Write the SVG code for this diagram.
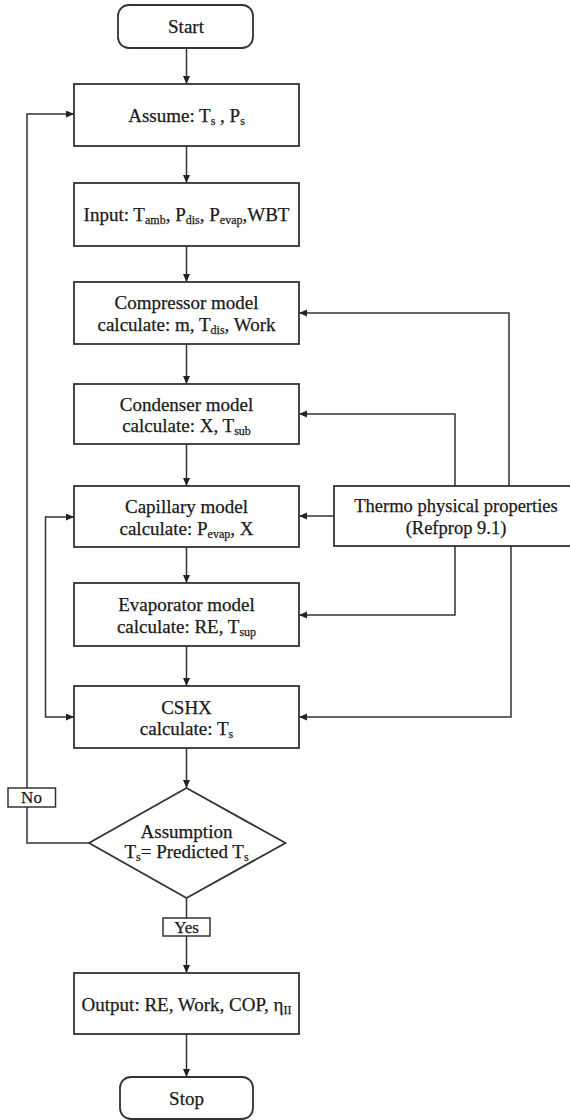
<svg xmlns="http://www.w3.org/2000/svg" width="570" height="1120" viewBox="0 0 570 1120">
<style>
.box{fill:#fff;stroke:#333;stroke-width:1.8}
.lbl{fill:#fff;stroke:#333;stroke-width:1.5}
.t{font-family:"Liberation Serif","Times New Roman",serif;font-size:19px;fill:#1a1a1a;stroke:#1a1a1a;stroke-width:0.25;text-anchor:middle}
.s{font-size:12px}
.c{fill:none;stroke:#333;stroke-width:1.5}
</style>
<defs>
<marker id="ah" markerUnits="userSpaceOnUse" markerWidth="9" markerHeight="8" refX="8" refY="3.5" orient="auto-start-reverse">
<path d="M0,0 L8,3.5 L0,7 z" fill="#222"/>
</marker>
</defs>
<rect width="570" height="1120" fill="#fff"/>
<g id="connectors">
<path class="c" d="M186.5,48 V84" marker-end="url(#ah)"/>
<path class="c" d="M186.5,146 V183" marker-end="url(#ah)"/>
<path class="c" d="M186.5,246 V282" marker-end="url(#ah)"/>
<path class="c" d="M186.5,344 V384" marker-end="url(#ah)"/>
<path class="c" d="M186.5,444 V486" marker-end="url(#ah)"/>
<path class="c" d="M186.5,547 V583" marker-end="url(#ah)"/>
<path class="c" d="M186.5,646 V686" marker-end="url(#ah)"/>
<path class="c" d="M186.5,748 V788" marker-end="url(#ah)"/>
<path class="c" d="M186.5,898 V973" marker-end="url(#ah)"/>
<path class="c" d="M186.5,1034 V1077" marker-end="url(#ah)"/>
<path class="c" d="M89,843 H27 V114 H74" marker-end="url(#ah)"/>
<path class="c" d="M509,486 V313 H299" marker-end="url(#ah)"/>
<path class="c" d="M455,486 V414 H299" marker-end="url(#ah)"/>
<path class="c" d="M334,516 H299" marker-end="url(#ah)"/>
<path class="c" d="M455,546 V615 H299" marker-end="url(#ah)"/>
<path class="c" d="M511,546 V717 H299" marker-end="url(#ah)"/>
<path class="c" d="M74,517 H45.5 V717 H74" marker-start="url(#ah)" marker-end="url(#ah)"/>
</g>
<g id="start">
<rect class="box" x="118" y="5" width="135" height="43" rx="11"/>
<text class="t" x="186" y="33">Start</text>
</g>
<g id="assume">
<rect class="box" x="74" y="84" width="225" height="62"/>
<text class="t" x="186.5" y="122">Assume: T<tspan class="s" dy="3">s</tspan><tspan dy="-3"> , P</tspan><tspan class="s" dy="3">s</tspan></text>
</g>
<g id="input">
<rect class="box" x="74" y="183" width="225" height="63"/>
<text class="t" x="186.5" y="221">Input: T<tspan class="s" dy="3">amb</tspan><tspan dy="-3">, P</tspan><tspan class="s" dy="3">dis</tspan><tspan dy="-3">, P</tspan><tspan class="s" dy="3">evap</tspan><tspan dy="-3">,WBT</tspan></text>
</g>
<g id="compressor">
<rect class="box" x="74" y="282" width="225" height="62"/>
<text class="t" x="186.5" y="309">Compressor model</text>
<text class="t" x="186.5" y="331">calculate: m, T<tspan class="s" dy="3">dis</tspan><tspan dy="-3">, Work</tspan></text>
</g>
<g id="condenser">
<rect class="box" x="74" y="384" width="225" height="60"/>
<text class="t" x="186.5" y="411">Condenser model</text>
<text class="t" x="186.5" y="432">calculate: X, T<tspan class="s" dy="3">sub</tspan></text>
</g>
<g id="capillary">
<rect class="box" x="74" y="486" width="225" height="61"/>
<text class="t" x="186.5" y="513">Capillary model</text>
<text class="t" x="186.5" y="535">calculate: P<tspan class="s" dy="3">evap</tspan><tspan dy="-3">, X</tspan></text>
</g>
<g id="thermo">
<rect class="box" x="334" y="486" width="245" height="60"/>
<text class="t" x="456" y="512" style="font-size:18.5px">Thermo physical properties</text>
<text class="t" x="456" y="534" style="font-size:18.5px">(Refprop 9.1)</text>
</g>
<g id="evaporator">
<rect class="box" x="74" y="583" width="225" height="63"/>
<text class="t" x="186.5" y="611">Evaporator model</text>
<text class="t" x="186.5" y="633">calculate: RE, T<tspan class="s" dy="3">sup</tspan></text>
</g>
<g id="cshx">
<rect class="box" x="74" y="686" width="225" height="62"/>
<text class="t" x="186.5" y="714">CSHX</text>
<text class="t" x="186.5" y="735">calculate: T<tspan class="s" dy="3">s</tspan></text>
</g>
<g id="decision">
<polygon class="box" points="186.5,788 285.5,843 186.5,898 89,843"/>
<text class="t" x="186.5" y="838">Assumption</text>
<text class="t" x="186.5" y="858">T<tspan class="s" dy="3">s</tspan><tspan dy="-3">= Predicted T</tspan><tspan class="s" dy="3">s</tspan></text>
</g>
<g id="no-label">
<rect class="lbl" x="8" y="788" width="47.5" height="19"/>
<text class="t" x="31.5" y="803" style="font-size:17px">No</text>
</g>
<g id="yes-label">
<rect class="lbl" x="163" y="918" width="47" height="18"/>
<text class="t" x="186.5" y="933" style="font-size:17px">Yes</text>
</g>
<g id="output">
<rect class="box" x="74" y="973" width="225" height="61"/>
<text class="t" x="186.5" y="1011">Output: RE, Work, COP, η<tspan class="s" dy="3">II</tspan></text>
</g>
<g id="stop">
<rect class="box" x="120" y="1077" width="133" height="42" rx="11"/>
<text class="t" x="186.5" y="1105">Stop</text>
</g>
</svg>
